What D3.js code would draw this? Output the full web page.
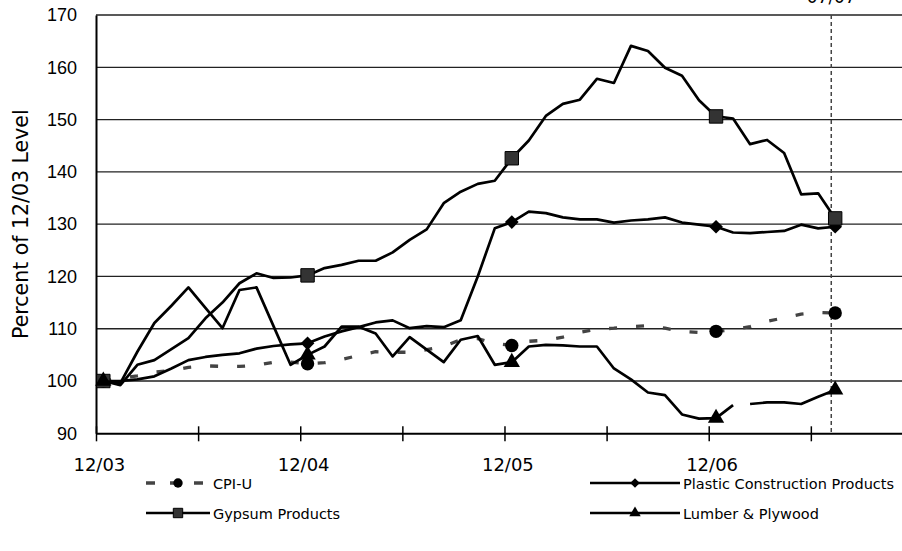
<!DOCTYPE html>
<html>
<head>
<meta charset="utf-8">
<script src="https://cdnjs.cloudflare.com/ajax/libs/d3/7.8.5/d3.min.js"></script>
<style>
    body { margin: 0; background: #fff; }
    svg { display: block; font-family: 'DejaVu Sans', sans-serif; }
</style>
</head>
<body>
<svg width="902" height="551"></svg>
<script>
// months counted from 12/03 (0) to 07/07 (43)
var months = d3.range(44);
var yTicks = [90, 100, 110, 120, 130, 140, 150, 160, 170];
var xLabels = ["12/03", "12/04", "12/05", "12/06"];
var xLabelMonths = [0, 12, 24, 36];
var markerMonths = [0, 12, 24, 36, 43];
var cutoffLabel = "07/07";

var cpiU = [100, 100.5, 101.0, 101.7, 102.0, 102.6, 102.9, 102.8, 102.8, 103.0, 103.6, 103.6,
    103.3, 103.5, 104.1, 104.9, 105.6, 105.5, 105.5, 106.0, 106.6, 107.9, 108.1, 107.2,
    106.8, 107.6, 107.8, 108.4, 109.3, 109.9, 110.1, 110.4, 110.6, 110.1, 109.5, 109.3,
    109.5, 109.8, 110.4, 111.4, 112.1, 112.8, 113.1, 113.0];
var plastic = [100, 100.0, 100.3, 100.9, 102.4, 104.0, 104.6, 105.0, 105.3, 106.2, 106.7, 107.0,
    107.2, 108.5, 109.5, 110.3, 111.2, 111.6, 110.1, 110.5, 110.3, 111.6, 120.0, 129.2,
    130.4, 132.4, 132.1, 131.3, 130.9, 130.9, 130.3, 130.7, 130.9, 131.3, 130.3, 129.9,
    129.5, 128.4, 128.3, 128.5, 128.7, 129.9, 129.2, 129.5];
var gypsum = [100, 99.2, 103.1, 104.0, 106.1, 108.2, 112.0, 115.0, 118.7, 120.6, 119.7, 119.8,
    120.2, 121.6, 122.2, 123.0, 123.0, 124.6, 127.0, 129.0, 134.0, 136.2, 137.7, 138.3,
    142.6, 146.0, 150.7, 153.0, 153.8, 157.8, 157.0, 164.1, 163.1, 159.9, 158.4, 153.7,
    150.6, 150.2, 145.3, 146.1, 143.6, 135.7, 135.9, 131.1];
var lumber = [100, 99.6, 105.6, 111.1, 114.4, 117.9, 114.0, 110.1, 117.4, 117.9, 110.5, 103.1,
    105.0, 106.6, 110.4, 110.4, 109.1, 104.7, 108.4, 106.0, 103.6, 107.9, 108.6, 103.1,
    103.6, 106.6, 106.9, 106.8, 106.6, 106.6, 102.4, 100.3, 97.8, 97.3, 93.6, 92.8,
    92.9, 95.4, 95.6, 95.9, 95.9, 95.6, 97.0, 98.3];
var lumberBreakAfter = 37; // line is broken between these two months

var seriesNames = ["CPI-U", "Plastic Construction Products", "Gypsum Products", "Lumber & Plywood"];

var svg = d3.select("svg");
var dayOffset = 0.43; // points sit mid-month

var x = d3.scaleLinear().domain([0, 48]).range([96, 96 + 48 * 17.02]);
var y = d3.scaleLinear().domain([90, 170]).range([433.3, 15]);

// gridlines
svg.append("g").selectAll("line")
    .data(yTicks.filter(function(d) { return d > 90; }))
    .enter().append("line")
    .attr("x1", 96).attr("x2", 902)
    .attr("y1", function(d) { return y(d); })
    .attr("y2", function(d) { return y(d); })
    .attr("stroke", "#222").attr("stroke-width", 1.3);

// y axis
var yAxis = svg.append("g")
    .attr("transform", "translate(96,0)")
    .call(d3.axisLeft(y).tickValues(yTicks).tickSize(0).tickPadding(19));
yAxis.select(".domain").attr("stroke", "#000").attr("stroke-width", 2);
yAxis.selectAll("text").style("font-size", "18px").attr("fill", "#000");

// x axis, cross ticks every 6 months
var xAxis = svg.append("g")
    .attr("transform", "translate(0," + y(90) + ")")
    .call(d3.axisBottom(x).tickValues(d3.range(0, 49, 6)).tickFormat("").tickSizeOuter(0));
xAxis.select(".domain").attr("stroke", "#000").attr("stroke-width", 2);
xAxis.selectAll(".tick line").attr("y1", -7).attr("y2", 8).attr("stroke", "#000").attr("stroke-width", 1.5);

svg.append("g").selectAll("text")
    .data(xLabels)
    .enter().append("text")
    .attr("x", function(d, i) { return x(xLabelMonths[i] + 0.2); })
    .attr("y", 471)
    .attr("text-anchor", "middle")
    .style("font-size", "18px")
    .text(function(d) { return d; });

// y title
svg.append("text")
    .attr("transform", "translate(28," + ((y(90) + y(170)) / 2) + ") rotate(-90)")
    .attr("text-anchor", "middle")
    .style("font-size", "20.5px")
    .text("Percent of 12/03 Level");

// cutoff line
svg.append("line")
    .attr("x1", x(43.2)).attr("x2", x(43.2))
    .attr("y1", y(170)).attr("y2", y(90))
    .attr("stroke", "#444").attr("stroke-width", 1.5)
    .attr("stroke-dasharray", "4,3");
svg.append("text")
    .attr("x", x(43.2)).attr("y", 3)
    .attr("text-anchor", "middle")
    .style("font-size", "17px")
    .text(cutoffLabel);

function pts(vals, breakAfter) {
    var out = [];
    months.forEach(function(m, i) {
        out.push({m: m, v: vals[i]});
        if (breakAfter === m) out.push({m: m + 0.5, v: null});
    });
    return out;
}

var line = d3.line()
    .defined(function(d) { return d.v != null; })
    .x(function(d) { return x(d.m + dayOffset); })
    .y(function(d) { return y(d.v); });

var series = [
    {name: seriesNames[0], vals: cpiU, stroke: "#444", width: 3.3, dash: "8,19", sym: "circle"},
    {name: seriesNames[1], vals: plastic, stroke: "#000", width: 2.7, dash: null, sym: "diamond"},
    {name: seriesNames[2], vals: gypsum, stroke: "#000", width: 2.7, dash: null, sym: "square"},
    {name: seriesNames[3], vals: lumber, stroke: "#000", width: 2.7, dash: null, sym: "triangle", breakAfter: lumberBreakAfter}
];

function drawMarker(g, sym, scale) {
    scale = scale || 1;
    if (sym === "circle") {
        g.append("circle").attr("r", 6.7 * scale).attr("fill", "#000");
    } else if (sym === "diamond") {
        g.append("path").attr("d", d3.symbol(d3.symbolSquare, 94 * scale * scale)())
            .attr("transform", "rotate(45)").attr("fill", "#000");
    } else if (sym === "square") {
        g.append("path").attr("d", d3.symbol(d3.symbolSquare, 180 * scale * scale)())
            .attr("fill", "#333").attr("stroke", "#000").attr("stroke-width", 1);
    } else {
        g.append("path").attr("d", d3.symbol(d3.symbolTriangle, 115 * scale * scale)())
            .attr("fill", "#000");
    }
}

series.forEach(function(s) {
    svg.append("path")
        .datum(pts(s.vals, s.breakAfter))
        .attr("d", line)
        .attr("fill", "none")
        .attr("stroke", s.stroke)
        .attr("stroke-width", s.width)
        .attr("stroke-dasharray", s.dash)
        .attr("stroke-linejoin", "round");
    markerMonths.forEach(function(m) {
        var g = svg.append("g")
            .attr("transform", "translate(" + x(m + dayOffset) + "," + y(s.vals[m]) + ")");
        drawMarker(g, s.sym);
    });
});

// legend: [line start, line end, row y]
var legendPos = [[146, 210, 483], [590, 680, 483], [146, 210, 513], [590, 680, 513]];
series.forEach(function(s, i) {
    var p = legendPos[i];
    var lg = svg.append("g").attr("transform", "translate(0," + p[2] + ")");
    lg.append("line")
        .attr("x1", p[0]).attr("x2", p[1])
        .attr("stroke", s.stroke).attr("stroke-width", s.width)
        .attr("stroke-dasharray", s.dash ? "9,15" : null);
    drawMarker(lg.append("g").attr("transform", "translate(" + ((p[0] + p[1]) / 2) + ",0)"), s.sym, 0.7);
    lg.append("text")
        .attr("x", p[1] + 3).attr("y", 5.5)
        .style("font-size", "14.5px")
        .text(s.name);
});
</script>
</body>
</html>
